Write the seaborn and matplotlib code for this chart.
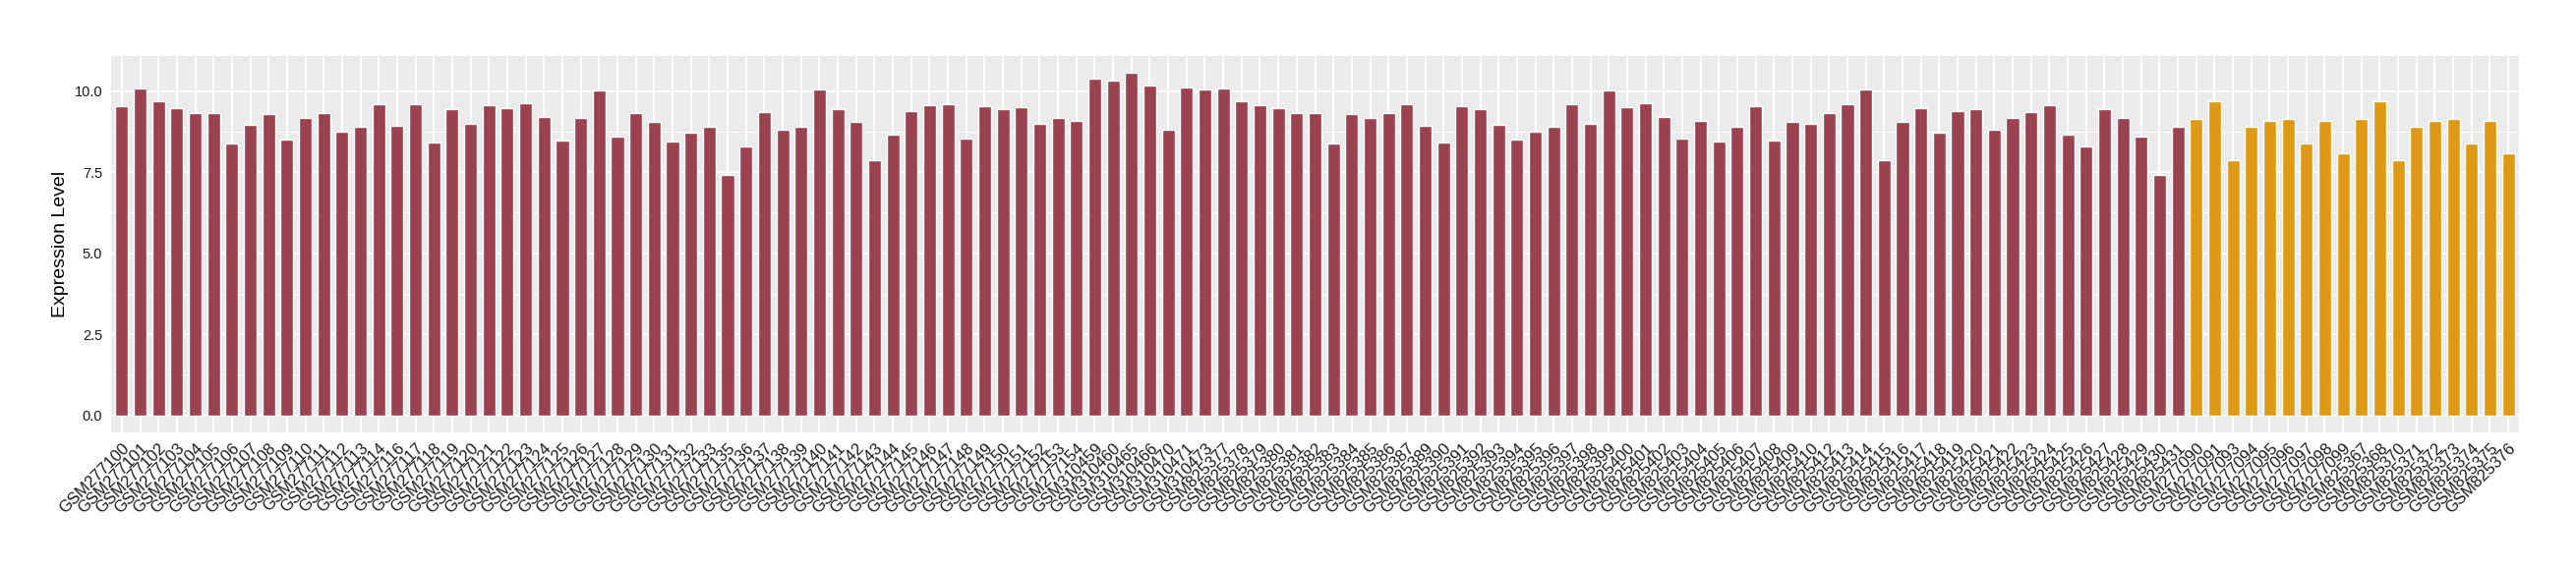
import pandas as pd
import matplotlib
matplotlib.use('Agg')
import matplotlib.pyplot as plt
import seaborn as sns
import numpy as np

sns.set_theme(style='darkgrid')
plt.rcParams['font.family'] = ['Liberation Sans', 'DejaVu Sans']

# sample ids
group_a_samples = (
    ['GSM2771%02d' % i for i in range(0, 12)]
    + ['GSM277112', 'GSM277113', 'GSM277114']
    + ['GSM2771%02d' % i for i in range(16, 34)]
    + ['GSM2771%02d' % i for i in range(35, 55)]
    + ['GSM310459', 'GSM310460', 'GSM310465', 'GSM310466', 'GSM310470', 'GSM310471', 'GSM310473']
    + ['GSM8253%02d' % i for i in range(77, 88)]
    + ['GSM8253%02d' % i for i in range(89, 100)]
    + ['GSM8254%02d' % i for i in range(0, 11)]
    + ['GSM8254%02d' % i for i in range(12, 32)]
)
group_b_samples = (
    ['GSM277090', 'GSM277091', 'GSM277093', 'GSM277094', 'GSM277095', 'GSM277096', 'GSM277097', 'GSM277098', 'GSM277099']
    + ['GSM825367', 'GSM825368', 'GSM825370', 'GSM825371', 'GSM825372', 'GSM825373', 'GSM825374', 'GSM825375', 'GSM825376']
)

group_a_values = [
    9.54, 10.08, 9.69, 9.48, 9.31, 9.31, 8.39, 8.96, 9.28, 8.51, 9.17, 9.31,
    8.75, 8.90, 9.60,
    8.93, 9.60, 8.42, 9.45, 8.99, 9.57, 9.48, 9.63, 9.20, 8.48, 9.17, 10.02, 8.60, 9.32, 9.05, 8.45, 8.72, 8.90,
    7.42, 8.30, 9.35, 8.81, 8.90, 10.05, 9.45, 9.05, 7.87, 8.66, 9.39, 9.57, 9.60, 8.54, 9.54, 9.45, 9.51, 8.99, 9.17, 9.08,
    10.38, 10.32, 10.56, 10.17, 8.81, 10.11, 10.05,
    10.08, 9.69, 9.57, 9.48, 9.32, 9.32, 8.39, 9.29, 9.17, 9.32, 9.60,
    8.93, 8.42, 9.54, 9.45, 8.96, 8.51, 8.75, 8.90, 9.60, 8.99, 10.02,
    9.51, 9.63, 9.20, 8.54, 9.08, 8.45, 8.90, 9.54, 8.48, 9.05, 8.99,
    9.32, 9.60, 10.05, 7.87, 9.05, 9.48, 8.72, 9.39, 9.45, 8.81, 9.17, 9.35, 9.57, 8.66, 8.30, 9.45, 9.17, 8.60, 7.42, 8.90,
]
group_b_values = [
    9.14, 9.69, 7.87, 8.90, 9.08, 9.14, 8.39, 9.08, 8.08,
    9.14, 9.69, 7.87, 8.90, 9.08, 9.14, 8.39, 9.08, 8.08,
]

group_names = ['A', 'B']
group_colors = ['#9A4250', '#DE9A14']

df = pd.DataFrame({
    'Sample': group_a_samples + group_b_samples,
    'Expression Level': group_a_values + group_b_values,
    'Group': [group_names[0]] * len(group_a_samples) + [group_names[1]] * len(group_b_samples),
})

fig = plt.figure(figsize=(26.2, 5.8), dpi=100)
ax = fig.add_axes([0.043, 0.2414, 0.935, 0.6609])

sns.barplot(
    data=df, x='Sample', y='Expression Level', hue='Group',
    palette=dict(zip(group_names, group_colors)), dodge=False,
    width=0.7, saturation=1, legend=False, ax=ax,
)

n = len(df)
ax.set_xlim(-0.6, n - 1 + 0.6)
ymax = df['Expression Level'].max()
ax.set_ylim(-0.05 * ymax, ymax * 1.05)

ax.set_facecolor('#EBEBEB')
ax.set_yticks([0, 2.5, 5.0, 7.5, 10.0])
ax.set_yticks([1.25, 3.75, 6.25, 8.75], minor=True)
ax.set_yticklabels(['0.0', '2.5', '5.0', '7.5', '10.0'], fontsize=10.5, color='#1a1a1a')
ax.grid(which='major', color='white', linewidth=1.3)
ax.grid(which='minor', axis='y', color='white', linewidth=0.65)
ax.set_axisbelow(True)
for s in ax.spines.values():
    s.set_visible(False)

ax.tick_params(axis='both', which='major', length=4, width=0.8, color='#333333', pad=2)
ax.tick_params(axis='y', which='minor', length=0)
plt.setp(ax.get_xticklabels(), rotation=45, ha='right', va='top',
         rotation_mode='anchor', fontsize=12, color='#1a1a1a')

ax.set_xlabel('')
ax.set_ylabel('Expression Level', fontsize=14, color='black', labelpad=4)

fig.savefig('out.png', dpi=100)
